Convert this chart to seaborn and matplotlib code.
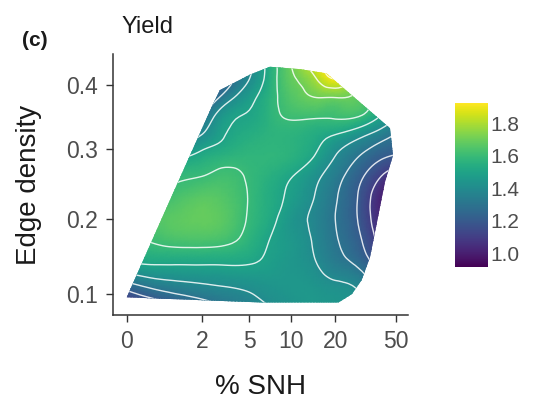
import numpy as np
import matplotlib
matplotlib.use("Agg")
import matplotlib.pyplot as plt
from matplotlib.patches import Polygon
from matplotlib.tri import Triangulation, UniformTriRefiner
import seaborn as sns

# grid of predicted yield (rows = edge density, cols = % SNH)
snh = [0, 0.5, 1, 2, 3, 5, 7, 10, 15, 20, 30, 40, 55]
edge_density = [0.085, 0.11, 0.14, 0.17, 0.20, 0.23, 0.26, 0.29, 0.32, 0.35, 0.38, 0.41, 0.44]
yield_pred = [
    [1.06, 1.12, 1.18, 1.25, 1.30, 1.36, 1.40, 1.43, 1.45, 1.44, 1.40, 1.32, 1.22],
    [1.25, 1.33, 1.36, 1.385, 1.40, 1.42, 1.44, 1.45, 1.44, 1.42, 1.37, 1.25, 1.15],
    [1.50, 1.51, 1.51, 1.51, 1.51, 1.505, 1.48, 1.45, 1.40, 1.34, 1.26, 1.13, 1.03],
    [1.58, 1.61, 1.63, 1.635, 1.625, 1.565, 1.50, 1.455, 1.38, 1.31, 1.20, 1.06, 0.97],
    [1.62, 1.65, 1.67, 1.685, 1.67, 1.59, 1.53, 1.45, 1.37, 1.30, 1.17, 1.02, 0.93],
    [1.55, 1.60, 1.63, 1.665, 1.655, 1.595, 1.54, 1.48, 1.39, 1.31, 1.17, 1.02, 0.93],
    [1.50, 1.54, 1.58, 1.60, 1.62, 1.59, 1.555, 1.505, 1.42, 1.34, 1.21, 1.10, 0.98],
    [1.40, 1.44, 1.47, 1.53, 1.56, 1.575, 1.575, 1.56, 1.49, 1.40, 1.29, 1.22, 1.19],
    [1.20, 1.25, 1.30, 1.41, 1.49, 1.545, 1.565, 1.565, 1.53, 1.49, 1.41, 1.34, 1.26],
    [1.15, 1.15, 1.18, 1.30, 1.45, 1.51, 1.565, 1.61, 1.61, 1.61, 1.59, 1.49, 1.40],
    [1.10, 1.10, 1.12, 1.18, 1.32, 1.47, 1.56, 1.65, 1.70, 1.70, 1.66, 1.55, 1.45],
    [1.05, 1.05, 1.08, 1.12, 1.22, 1.40, 1.54, 1.68, 1.80, 1.90, 1.72, 1.60, 1.50],
    [1.05, 1.05, 1.08, 1.15, 1.25, 1.38, 1.54, 1.70, 1.90, 1.98, 1.80, 1.65, 1.55],
]

# convex hull of the sampled landscapes
hull_snh = [0, 6.2, 21.0, 25.8, 29.9, 33.9, 42.4, 47.8, 45.7, 17.5, 11.6, 7.1, 5.05, 2.9, 2.5, 1.08]
hull_ed = [0.0958, 0.0893, 0.0893, 0.100, 0.118, 0.148, 0.252, 0.291, 0.332,
           0.419, 0.426, 0.430, 0.417, 0.392, 0.368, 0.248]

x_ticks = [0, 2, 5, 10, 20, 50]
y_ticks = [0.1, 0.2, 0.3, 0.4]
cbar_ticks = [1.0, 1.2, 1.4, 1.6, 1.8]
levels = [0.9, 1.0, 1.1, 1.2, 1.3, 1.4, 1.5, 1.6, 1.7, 1.8, 1.9]

sns.set_theme(style="ticks")
plt.rcParams["font.family"] = ["Liberation Sans", "DejaVu Sans"]

fig = plt.figure(figsize=(5.49, 4.01), dpi=100)
ax = fig.add_axes([0.2058, 0.2145, 0.5374, 0.6508])
cax = fig.add_axes([0.8288, 0.3342, 0.0601, 0.409])

# both axes are on a log(x + 1) scale
X, Y = np.meshgrid(np.log1p(snh), np.log1p(edge_density))
Z = np.array(yield_pred)
ny, nx = Z.shape
idx = np.arange(nx * ny).reshape(ny, nx)
a, b = idx[:-1, :-1].ravel(), idx[:-1, 1:].ravel()
c, d = idx[1:, 1:].ravel(), idx[1:, :-1].ravel()
triangles = np.concatenate([np.column_stack([a, b, c]), np.column_stack([a, c, d])])

# smooth the surface with matplotlib's cubic refiner (y stretched so cells are ~square)
aspect = 12.6
tri = Triangulation(X.ravel(), Y.ravel() * aspect, triangles)
tri_f, z_f = UniformTriRefiner(tri).refine_field(Z.ravel(), subdiv=3)
tri_plot = Triangulation(tri_f.x, tri_f.y / aspect, tri_f.triangles)

cmap = sns.color_palette("viridis", as_cmap=True)
norm = plt.Normalize(0.916, 1.925)

hull = Polygon(np.column_stack([np.log1p(hull_snh), np.log1p(hull_ed)]), closed=True,
               facecolor="none", edgecolor="none", transform=ax.transData)
ax.add_patch(hull)
mesh = ax.tripcolor(tri_plot, z_f, shading="gouraud", cmap=cmap, norm=norm)
mesh.set_clip_path(hull)
cs = ax.tricontour(tri_plot, z_f, levels=levels, colors="white", linewidths=1.0, alpha=0.85)
cs.set_clip_path(hull)

ax.set_xlim(-0.2, 4.107)
ax.set_ylim(0.0711, 0.3724)
ax.set_xticks(np.log1p(x_ticks))
ax.set_xticklabels([str(t) for t in x_ticks])
ax.set_yticks(np.log1p(y_ticks))
ax.set_yticklabels([f"{t:.1f}" for t in y_ticks])
sns.despine(ax=ax)
for s in ["left", "bottom"]:
    ax.spines[s].set_linewidth(1.1)
    ax.spines[s].set_color("#333333")
ax.tick_params(length=5, width=1, color="#333333", labelsize=16.5, labelcolor="#4d4d4d", pad=6)
ax.set_xlabel("% SNH", fontsize=20, color="#1a1a1a", va="top")
ax.xaxis.set_label_coords(0.5, -0.225)
ax.set_ylabel("Edge density", fontsize=20, color="#1a1a1a")
ax.yaxis.set_label_coords(-0.24, 0.5)

sm = plt.cm.ScalarMappable(norm=norm, cmap=cmap)
cbar = fig.colorbar(sm, cax=cax, ticks=cbar_ticks)
cbar.set_ticklabels([f"{t:.1f}" for t in cbar_ticks])
cbar.outline.set_visible(False)
cax.tick_params(which="both", left=True, right=True, direction="in", color="white",
                length=5, width=0.8, labelsize=15, labelcolor="#4d4d4d", pad=2)

fig.text(122 / 549, 0.918, "Yield", fontsize=17, color="#1a1a1a", ha="left", va="baseline")
fig.text(22 / 549, 0.90, "(c)", fontsize=15, fontweight="bold", color="#1a1a1a",
         ha="left", va="center")

fig.savefig("out.png", dpi=100, facecolor="white")
